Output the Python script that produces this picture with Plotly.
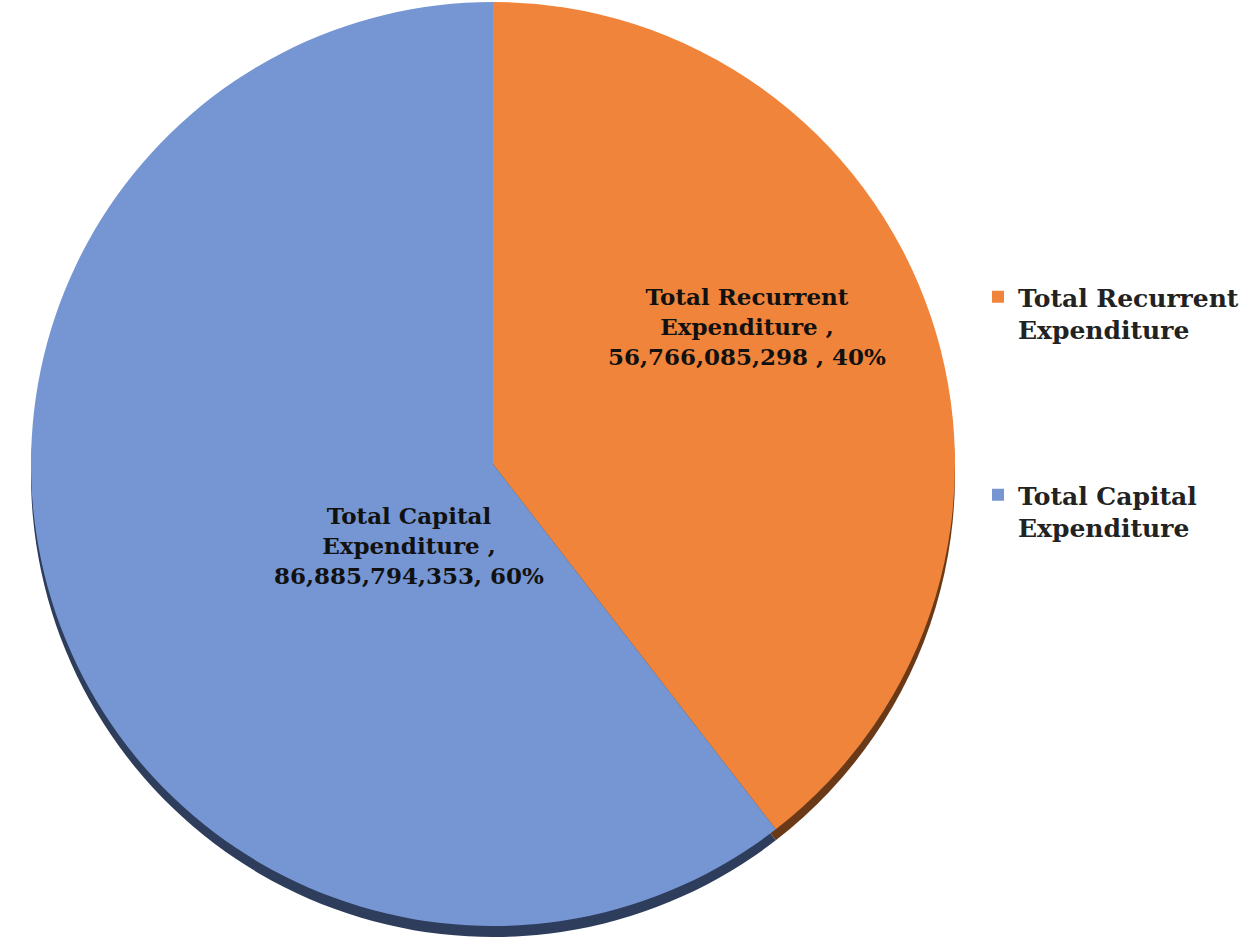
import plotly.graph_objects as go

# Expenditure breakdown
categories = ["Total Recurrent Expenditure", "Total Capital Expenditure"]
legend_names = ["Total Recurrent<br>Expenditure<br> <br> <br> <br> ", "Total Capital<br>Expenditure"]
amounts = [56766085298, 86885794353]
slice_colors = ["#F0843A", "#7596D2"]
shadow_colors = ["#6A3A18", "#2E3D5B"]

W, H = 1245, 946
FONT = "DejaVu Serif"
LABEL_SIZE = 23
LEGEND_SIZE = 25

total = sum(amounts)
pcts = [round(v / total * 100) for v in amounts]

# pie geometry in pixels
cx, cy, r = 493, 464, 462
shadow_dy = 11


def dom(cx, cy, r):
    return dict(x=[(cx - r) / W, (cx + r) / W],
                y=[(H - cy - r) / H, (H - cy + r) / H])


fig = go.Figure()

# drop shadow underneath the pie
fig.add_trace(go.Pie(
    labels=categories, values=amounts, sort=False, direction="clockwise",
    rotation=0, marker=dict(colors=shadow_colors, line=dict(width=0)),
    textinfo="none", hoverinfo="skip", showlegend=False,
    domain=dom(cx, cy + shadow_dy, r),
))

fig.add_trace(go.Pie(
    labels=legend_names, values=amounts, sort=False, direction="clockwise",
    rotation=0, marker=dict(colors=slice_colors, line=dict(width=0)),
    textinfo="none", showlegend=True,
    domain=dom(cx, cy, r),
))

# slice labels
label_text = [
    f"Total Recurrent<br>Expenditure ,<br>{amounts[0]:,} , {pcts[0]}%",
    f"Total Capital<br>Expenditure ,<br>{amounts[1]:,}, {pcts[1]}%",
]
label_pos = [(747, 326), (272, 545)]
for txt, (px, py) in zip(label_text, label_pos):
    fig.add_annotation(
        x=px / W, y=1 - py / H, xref="paper", yref="paper",
        text=txt, showarrow=False, align="center",
        font=dict(family=FONT, size=LABEL_SIZE, color="#111111", weight="bold"),
    )

fig.update_layout(
    width=W, height=H,
    margin=dict(l=0, r=0, t=0, b=0),
    paper_bgcolor="white", plot_bgcolor="white",
    legend=dict(
        x=978 / W, y=1 - 274 / H, xanchor="left", yanchor="top",
        font=dict(family=FONT, size=LEGEND_SIZE, color="#222222", weight="bold"),
        valign="top", tracegroupgap=0, itemwidth=30,
    ),
)

fig.write_html("out.html")
